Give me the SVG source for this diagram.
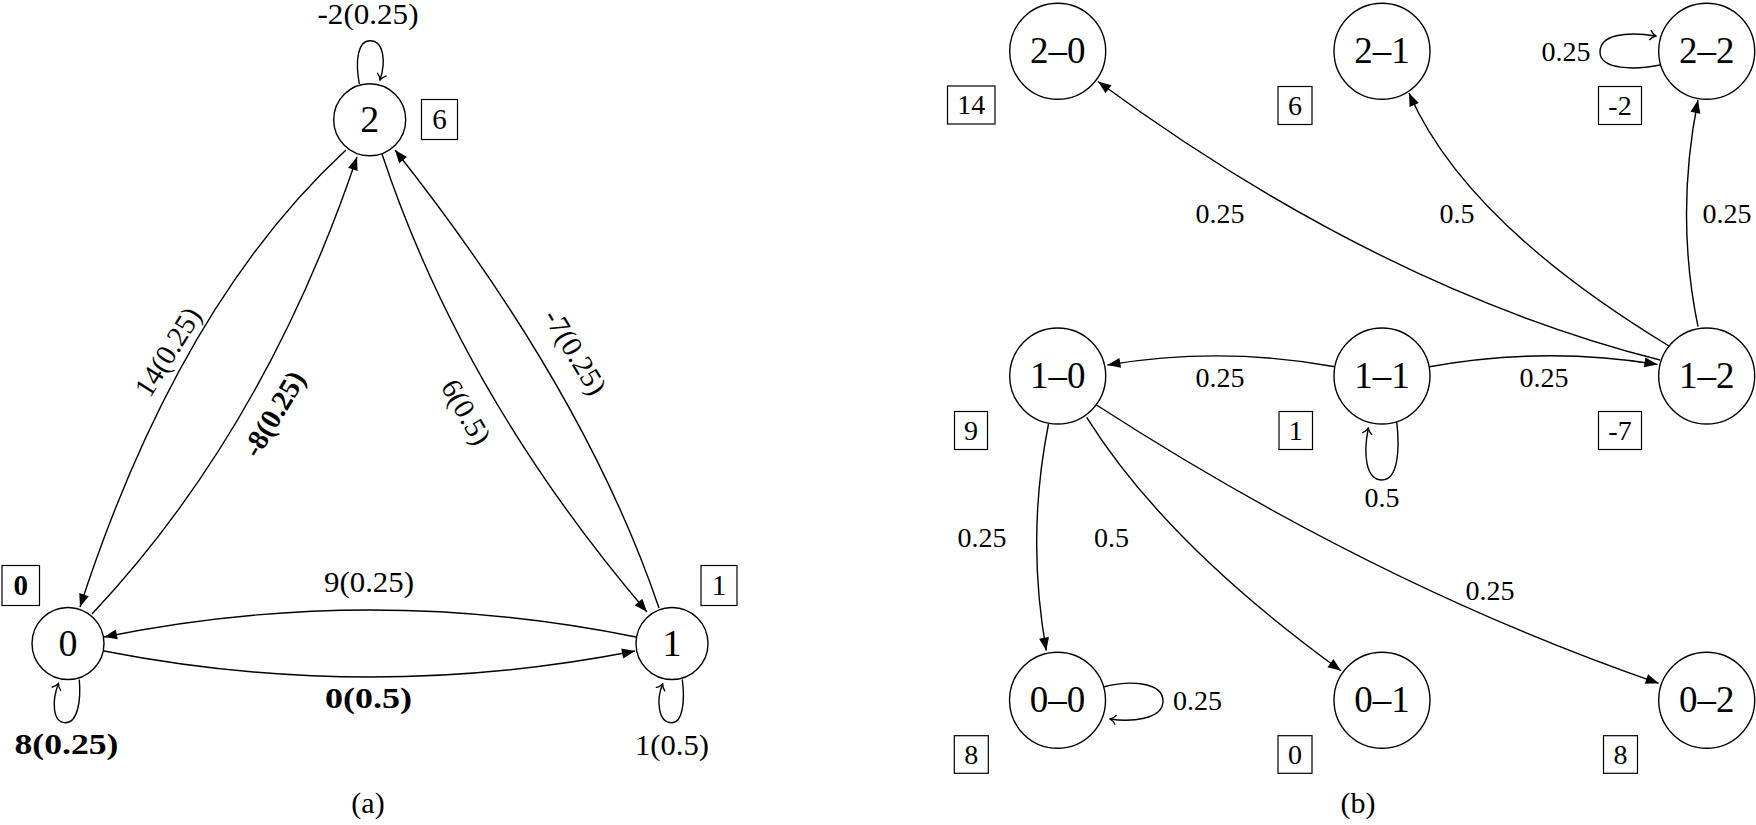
<svg xmlns="http://www.w3.org/2000/svg" width="1756" height="825" viewBox="0 0 1756 825">
<style>
text { font-family: "Liberation Serif", "DejaVu Serif", serif; fill: #000; }
.node circle { fill: #fff; stroke: #000; stroke-width: 1.4; }
.box { fill: #fff; stroke: #000; stroke-width: 1.2; }
.na { font-size: 38px; text-anchor: middle; }
.nb { font-size: 37px; text-anchor: middle; }
.la { font-size: 29px; text-anchor: middle; }
.lb { font-size: 28px; text-anchor: middle; }
.bold { font-weight: bold; }
.edge { fill: none; stroke: #000; stroke-width: 1.4; }
.arr { marker-end: url(#arrow); }
.loop { marker-end: url(#open); }
.cap { font-size: 30px; text-anchor: middle; }
</style>
<defs>
<marker id="arrow" viewBox="-14 -6 15 12" refX="0" refY="0" markerWidth="15" markerHeight="12" markerUnits="userSpaceOnUse" orient="auto">
<path d="M0,0 L-13,-5 L-13,5 z" fill="#000"/>
</marker>
<marker id="open" viewBox="-9 -7 10 14" refX="0" refY="0" markerWidth="10" markerHeight="14" markerUnits="userSpaceOnUse" orient="auto">
<path d="M-6,-5 C-4,-2 -1.5,-0.5 0,0 C-1.5,0.5 -4,2 -6,5" fill="none" stroke="#000" stroke-width="1.3"/>
</marker>
</defs>
<rect x="0" y="0" width="1756" height="825" fill="#fff"/>

<g id="connectors">
<!-- panel (a) -->
<path class="edge arr" d="M346,150 Q178,305 80,607"/>
<path class="edge arr" d="M92,614 Q265,430 357,157"/>
<path class="edge arr" d="M382,154 Q462,395 647,612"/>
<path class="edge arr" d="M659,608 Q585,390 395,150"/>
<path class="edge arr" d="M636,637 Q370,583 104,637"/>
<path class="edge arr" d="M104,651 Q370,703 635,651"/>
<path class="edge loop" d="M79.3,679.5 C81,700 78,722.7 65.5,722.7 C52,722.7 52,700 58.5,683.5"/>
<path class="edge loop" d="M682.3,679.5 C685,700 683,722.7 671.7,722.7 C658,722.7 656,700 662.7,684"/>
<path class="edge loop" d="M359.3,84 C355,60 358,40.7 370,40.7 C384,40.7 386,62 380,80"/>
<!-- panel (b) -->
<path class="edge arr" d="M1335,366.7 Q1221,346 1107.4,365"/>
<path class="edge arr" d="M1429.5,366.7 Q1545,346 1657.5,364.5"/>
<path class="edge arr" d="M1660,360 Q1379.5,288.5 1098,81.5"/>
<path class="edge arr" d="M1669,346 Q1465,222 1409,93"/>
<path class="edge arr" d="M1698,326.7 Q1675,215 1698,100"/>
<path class="edge arr" d="M1048.5,424 Q1026,537 1046.3,650.7"/>
<path class="edge arr" d="M1086.7,417.3 Q1166,544 1341,670.7"/>
<path class="edge arr" d="M1096.5,405 Q1376.4,585.8 1658.7,683.3"/>
<path class="edge loop" d="M1396.7,421.7 C1400,450 1398,480 1382,480 C1366,480 1363,455 1368.3,428"/>
<path class="edge loop" d="M1104.3,686.7 C1130,680 1163,682 1163,701 C1163,720 1130,722 1110,719"/>
<path class="edge loop" d="M1660,65 C1635,70 1600,70 1600,52 C1600,35 1625,31 1656,36"/>

<!-- edge labels (a) -->
<text class="la" transform="translate(168,352) rotate(-58)" y="9.5">14(0.25)</text>
<text class="la bold" transform="translate(274,414) rotate(-59)" y="9.5">-8(0.25)</text>
<text class="la" transform="translate(466,412) rotate(60)" y="9.5">6(0.5)</text>
<text class="la" transform="translate(575,352) rotate(59)" y="9.5">-7(0.25)</text>
<text class="la" x="369" y="592" textLength="90" lengthAdjust="spacingAndGlyphs">9(0.25)</text>
<text class="la bold" x="368.5" y="708" textLength="87" lengthAdjust="spacingAndGlyphs">0(0.5)</text>
<text class="la bold" x="66.5" y="754" textLength="104" lengthAdjust="spacingAndGlyphs">8(0.25)</text>
<text class="la" x="672" y="755" textLength="74" lengthAdjust="spacingAndGlyphs">1(0.5)</text>
<text class="la" x="368" y="24" textLength="101" lengthAdjust="spacingAndGlyphs">-2(0.25)</text>
<!-- edge labels (b) -->
<text class="lb" x="1220" y="222.7">0.25</text>
<text class="lb" x="1457" y="222.7">0.5</text>
<text class="lb" x="1727" y="222.7">0.25</text>
<text class="lb" x="1220" y="386.7">0.25</text>
<text class="lb" x="1544" y="386.7">0.25</text>
<text class="lb" x="1382" y="506.7">0.5</text>
<text class="lb" x="982" y="546.7">0.25</text>
<text class="lb" x="1111.5" y="546.7">0.5</text>
<text class="lb" x="1490" y="600">0.25</text>
<text class="lb" x="1197.5" y="710">0.25</text>
<text class="lb" x="1566" y="61">0.25</text>
</g>

<!-- panel (a) nodes -->
<g id="node-a0" class="node">
<circle cx="68" cy="643.5" r="36"/>
<text class="na" x="68" y="656">0</text>
<rect class="box" x="2" y="565.5" width="37.5" height="40"/>
<text class="la bold" x="20.8" y="595">0</text>
</g>
<g id="node-a1" class="node">
<circle cx="672" cy="643.5" r="36"/>
<text class="na" x="672" y="656">1</text>
<rect class="box" x="701" y="565.5" width="36" height="40"/>
<text class="la" x="719" y="595">1</text>
</g>
<g id="node-a2" class="node">
<circle cx="369.7" cy="119.7" r="36"/>
<text class="na" x="369.7" y="132.3">2</text>
<rect class="box" x="421.5" y="99.5" width="36" height="40"/>
<text class="la" x="439.5" y="129">6</text>
</g>

<!-- panel (b) nodes -->
<g id="node-2-0" class="node">
<circle cx="1057.7" cy="51.2" r="48"/>
<text class="nb" x="1057.7" y="63.4">2–0</text>
<rect class="box" x="947.5" y="86" width="47.5" height="38"/>
<text class="lb" x="971.2" y="114.3">14</text>
</g>
<g id="node-2-1" class="node">
<circle cx="1382" cy="51.2" r="48"/>
<text class="nb" x="1382" y="63.4">2–1</text>
<rect class="box" x="1278" y="86.5" width="34" height="38"/>
<text class="lb" x="1295" y="114.8">6</text>
</g>
<g id="node-2-2" class="node">
<circle cx="1706.7" cy="51.2" r="48"/>
<text class="nb" x="1706.7" y="63.4">2–2</text>
<rect class="box" x="1598.5" y="86.5" width="43" height="38"/>
<text class="lb" x="1620" y="114.8">-2</text>
</g>
<g id="node-1-0" class="node">
<circle cx="1057.7" cy="376" r="48"/>
<text class="nb" x="1057.7" y="388.2">1–0</text>
<rect class="box" x="954.5" y="411.5" width="33" height="38"/>
<text class="lb" x="971" y="439.8">9</text>
</g>
<g id="node-1-1" class="node">
<circle cx="1382" cy="376" r="48"/>
<text class="nb" x="1382" y="388.2">1–1</text>
<rect class="box" x="1279" y="411.5" width="33.5" height="38"/>
<text class="lb" x="1295.8" y="439.8">1</text>
</g>
<g id="node-1-2" class="node">
<circle cx="1706.7" cy="376" r="48"/>
<text class="nb" x="1706.7" y="388.2">1–2</text>
<rect class="box" x="1598.5" y="411.5" width="43" height="38"/>
<text class="lb" x="1620" y="439.8">-7</text>
</g>
<g id="node-0-0" class="node">
<circle cx="1057.5" cy="700.2" r="48"/>
<text class="nb" x="1057.5" y="712.4">0–0</text>
<rect class="box" x="954.3" y="735.7" width="34" height="37.6"/>
<text class="lb" x="971.3" y="763.8">8</text>
</g>
<g id="node-0-1" class="node">
<circle cx="1382" cy="700.2" r="48"/>
<text class="nb" x="1382" y="712.4">0–1</text>
<rect class="box" x="1278" y="735.7" width="34" height="37.6"/>
<text class="lb" x="1295" y="763.8">0</text>
</g>
<g id="node-0-2" class="node">
<circle cx="1706.7" cy="700.2" r="48"/>
<text class="nb" x="1706.7" y="712.4">0–2</text>
<rect class="box" x="1603.5" y="735.7" width="34" height="37.6"/>
<text class="lb" x="1620.5" y="763.8">8</text>
</g>

<text class="cap" x="368" y="813">(a)</text>
<text class="cap" x="1358" y="813">(b)</text>
</svg>
